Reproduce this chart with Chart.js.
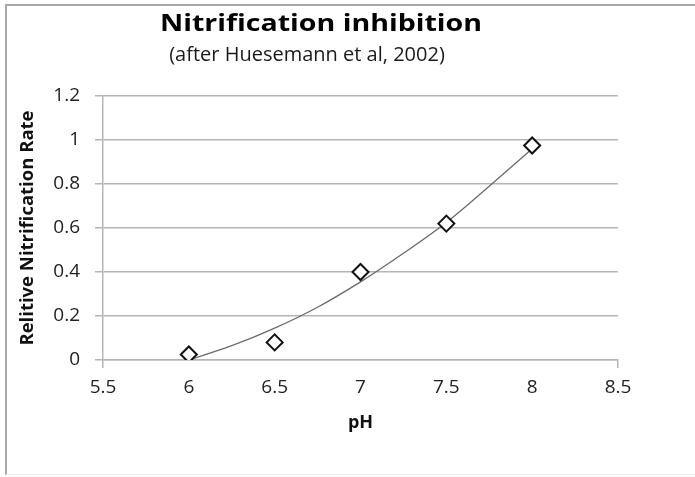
<!DOCTYPE html>
<html>
<head>
<meta charset="utf-8">
<script src="https://cdn.jsdelivr.net/npm/chart.js@4"></script>
<style>
    body { margin: 0; background: #fff; }
    .marco {
        position: absolute; left: 5px; top: 4px; width: 720px; height: 468px;
        border-left: 2px solid #a9a9a9; border-top: 2px solid #a9a9a9;
        border-bottom: 1px solid #eeeeee;
    }
    .contenedor { position: absolute; left: 0; top: 0; width: 695px; height: 477px; }
</style>
</head>
<body>
<div class="marco"></div>
<div class="contenedor"><canvas id="myChart"></canvas></div>
<script>
console.log("Script Cargado.");

const titulo = 'Nitrification inhibition';
const subtitulo = '(after Huesemann et al, 2002)';
const tituloX = 'pH';
const tituloY = 'Relitive Nitrification Rate';

// puntos medidos
const phPuntos = [6, 6.5, 7, 7.5, 8];
const tasaPuntos = [0.025, 0.08, 0.40, 0.62, 0.975];

// linea de tendencia
const phCurva = [6, 6.25, 6.5, 6.75, 7, 7.25, 7.5, 7.75, 8];
const tasaCurva = [0.0, 0.065, 0.145, 0.24, 0.355, 0.485, 0.625, 0.79, 0.96];

const ejeXMin = 5.5, ejeXMax = 8.5, ejeXPaso = 0.5;
const ejeYMin = 0, ejeYMax = 1.2, ejeYPaso = 0.2;

const gris = '#b5b5b5';
const ctx = document.getElementById('myChart');

// etiquetas sin ceros de sobra: 1 en vez de 1.0
function etiqueta(valor) {
    return String(Math.round(valor * 10) / 10);
}

const tituloPlugin = {
    id: 'titulo',
    afterDraw(chart) {
        const c = chart.ctx;
        c.save();
        c.textAlign = 'center';
        c.textBaseline = 'alphabetic';
        c.fillStyle = '#000';
        c.font = 'bold 24px "Open Sans"';
        c.translate(321, 31);
        c.scale(1.19, 1);
        c.fillText(titulo, 0, 0);
        c.restore();

        c.save();
        c.textAlign = 'center';
        c.fillStyle = '#1a1a1a';
        c.font = '20px "Open Sans"';
        c.fillText(subtitulo, 307, 61);
        c.restore();
    }
};

new Chart(ctx, {
    type: 'scatter',
    data: {
        datasets: [{
            label: 'Datos',
            data: phPuntos.map((x, i) => ({ x: x, y: tasaPuntos[i] })),
            pointStyle: 'rectRot',
            pointRadius: 8,
            pointBorderWidth: 2,
            borderColor: '#111',
            backgroundColor: '#fff',
            showLine: false
        }, {
            label: 'Tendencia',
            data: phCurva.map((x, i) => ({ x: x, y: tasaCurva[i] })),
            showLine: true,
            pointRadius: 0,
            borderColor: '#6a6a6a',
            borderWidth: 1.3,
            cubicInterpolationMode: 'monotone'
        }]
    },
    options: {
        responsive: true,
        maintainAspectRatio: false,
        animation: false,
        layout: { padding: { left: 0, right: 77, top: 96, bottom: 0 } },
        plugins: {
            legend: { display: false },
            tooltip: { enabled: false }
        },
        scales: {
            x: {
                type: 'linear',
                min: ejeXMin,
                max: ejeXMax,
                afterFit: function (scale) { scale.height = 117; },
                ticks: {
                    stepSize: ejeXPaso,
                    padding: 8,
                    color: '#222',
                    font: { family: 'Open Sans', size: 19 },
                    callback: etiqueta
                },
                grid: {
                    drawOnChartArea: false,
                    tickLength: 8,
                    lineWidth: 1.5,
                    tickColor: c => (c.index === 0 || c.index === 6) ? gris : 'rgba(0,0,0,0)'
                },
                border: { color: gris, width: 1.5 },
                title: {
                    display: true,
                    text: tituloX,
                    color: '#111',
                    font: { family: 'Open Sans', size: 18, weight: 'bold' },
                    padding: { top: 0, bottom: 43 }
                }
            },
            y: {
                min: ejeYMin,
                max: ejeYMax,
                afterFit: function (scale) { scale.width = 103; },
                ticks: {
                    stepSize: ejeYPaso,
                    padding: 15,
                    color: '#222',
                    font: { family: 'Open Sans', size: 19 },
                    callback: etiqueta
                },
                grid: {
                    color: gris,
                    lineWidth: 1.5,
                    tickLength: 8
                },
                border: { color: gris, width: 1.5 },
                title: {
                    display: true,
                    text: tituloY,
                    color: '#111',
                    font: { family: 'Open Sans', size: 18.5, weight: 'bold' },
                    padding: { top: 17, bottom: 0 }
                }
            }
        }
    },
    plugins: [tituloPlugin]
});
</script>
</body>
</html>
